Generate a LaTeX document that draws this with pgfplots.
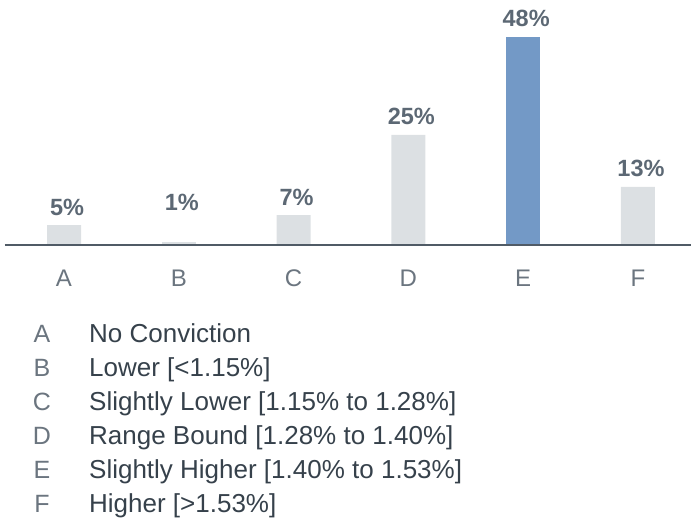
\documentclass[border=0pt]{standalone}
\usepackage{pgfplots}
\pgfplotsset{compat=1.18}
\usepackage{fontspec}
\setmainfont{Liberation Sans}
\definecolor{barfog}{HTML}{DCE0E3}
\definecolor{barblue}{HTML}{7399C6}
\definecolor{baseink}{HTML}{505B66}
\definecolor{lblink}{HTML}{5C6874}
\definecolor{tickink}{HTML}{6B757F}
\definecolor{keyink}{HTML}{36414B}

\begin{document}
\begin{tikzpicture}
\path[use as bounding box] (0,0) rectangle (691pt,-520pt);
\begin{axis}[
  at={(5pt,-245pt)}, anchor=south west,
  scale only axis, width=686pt, height=245pt,
  xmin=-0.514, xmax=5.462, ymin=0, ymax=56.5,
  axis y line=none, axis x line*=bottom,
  axis line style={draw=baseink, line width=2pt},
  ybar, bar width=34pt, bar shift=0pt,
  xtick={0,1,2,3,4,5}, xticklabels={A,B,C,D,E,F},
  major tick length=0pt,
  xticklabel style={font=\fontsize{24}{28}\selectfont\color{tickink}, anchor=base, inner sep=0pt, yshift=-41pt},
  nodes near coords={\pgfmathprintnumber[fixed,precision=0,assume math mode=true]{\pgfplotspointmeta}\%},
  point meta=explicit,
  nodes near coords style={font=\fontsize{23.5}{26}\selectfont\bfseries\color{lblink}, anchor=base, inner sep=0pt, yshift=10pt, xshift=3pt},
  clip=false,
]
\addplot[fill=barfog, draw=none] coordinates {(0,4.6)[5] (2,6.9)[7] (3,25.4)[25] (5,13.4)[13]};
\addplot[fill=barfog, draw=none, nodes near coords style={yshift=21pt}] coordinates {(1,0.8)[1]};
\addplot[fill=barblue, draw=none] coordinates {(4,48)[48]};
\draw[baseink, line width=2pt] (axis cs:-0.514,0) -- (axis cs:5.462,0);
\end{axis}
\foreach \k/\t [count=\i from 0] in {A/No Conviction, B/Lower [<1.15\%], C/Slightly Lower [1.15\% to 1.28\%], D/Range Bound [1.28\% to 1.40\%], E/Slightly Higher [1.40\% to 1.53\%], F/Higher [>1.53\%]} {
  \node[anchor=base, inner sep=0pt, text=tickink, font=\fontsize{25}{28}\selectfont] at (42pt,{-342pt-34pt*\i}) {\k};
  \node[anchor=base west, inner sep=0pt, text=keyink, font=\fontsize{26}{28}\selectfont] at (89pt,{-342pt-34pt*\i}) {\t};
}
\end{tikzpicture}
\end{document}
